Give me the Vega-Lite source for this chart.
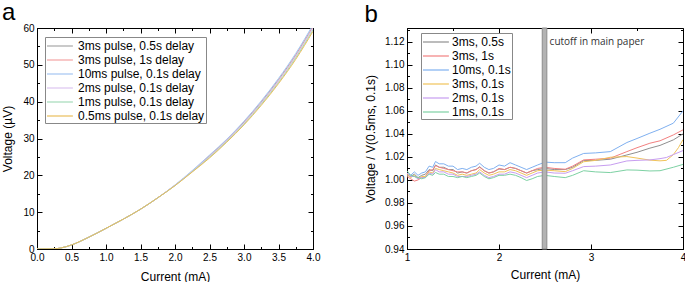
{
  "$schema": "https://vega.github.io/schema/vega-lite/v6.json",
  "padding": {"left": 1, "top": 0, "right": 0, "bottom": 0},
  "background": "white",
  "config": {
    "font": "Liberation Sans",
    "view": {"stroke": "black", "strokeWidth": 1},
    "axis": {"grid": false, "domainColor": "black", "tickColor": "black", "labelColor": "black", "titleColor": "black", "labelFont": "Liberation Sans", "titleFont": "Liberation Sans", "labelFontSize": 10, "titleFontSize": 12, "titleFontWeight": "normal", "labelFlush": false, "labelOverlap": false},
    "legend": {"labelFont": "Liberation Sans", "labelFontSize": 12, "labelColor": "black", "strokeColor": "#888888", "fillColor": "white", "padding": 1, "rowPadding": 0}
  },
  "datasets": {
    "curves": [
      {"s":"3ms pulse, 0.5s delay","I":0,"V":0},{"s":"3ms pulse, 0.5s delay","I":0.25,"V":0.05},{"s":"3ms pulse, 0.5s delay","I":0.35,"V":0.3},{"s":"3ms pulse, 0.5s delay","I":0.5,"V":1.1},{"s":"3ms pulse, 0.5s delay","I":0.75,"V":3.2},{"s":"3ms pulse, 0.5s delay","I":1.0,"V":5.6},{"s":"3ms pulse, 0.5s delay","I":1.25,"V":8.1},{"s":"3ms pulse, 0.5s delay","I":1.5,"V":10.8},{"s":"3ms pulse, 0.5s delay","I":1.75,"V":13.9},{"s":"3ms pulse, 0.5s delay","I":2.0,"V":17.3},{"s":"3ms pulse, 0.5s delay","I":2.25,"V":21.1},{"s":"3ms pulse, 0.5s delay","I":2.5,"V":25.3},{"s":"3ms pulse, 0.5s delay","I":2.75,"V":29.6},{"s":"3ms pulse, 0.5s delay","I":3.0,"V":34.5},{"s":"3ms pulse, 0.5s delay","I":3.25,"V":39.9},{"s":"3ms pulse, 0.5s delay","I":3.5,"V":46.0},{"s":"3ms pulse, 0.5s delay","I":3.75,"V":52.7},{"s":"3ms pulse, 0.5s delay","I":4.0,"V":60.5},
      {"s":"3ms pulse, 1s delay","I":0,"V":0},{"s":"3ms pulse, 1s delay","I":0.25,"V":0.05},{"s":"3ms pulse, 1s delay","I":0.35,"V":0.3},{"s":"3ms pulse, 1s delay","I":0.5,"V":1.1},{"s":"3ms pulse, 1s delay","I":0.75,"V":3.2},{"s":"3ms pulse, 1s delay","I":1.0,"V":5.6},{"s":"3ms pulse, 1s delay","I":1.25,"V":8.1},{"s":"3ms pulse, 1s delay","I":1.5,"V":10.8},{"s":"3ms pulse, 1s delay","I":1.75,"V":13.9},{"s":"3ms pulse, 1s delay","I":2.0,"V":17.3},{"s":"3ms pulse, 1s delay","I":2.25,"V":21.1},{"s":"3ms pulse, 1s delay","I":2.5,"V":25.2},{"s":"3ms pulse, 1s delay","I":2.75,"V":29.5},{"s":"3ms pulse, 1s delay","I":3.0,"V":34.3},{"s":"3ms pulse, 1s delay","I":3.25,"V":39.7},{"s":"3ms pulse, 1s delay","I":3.5,"V":45.7},{"s":"3ms pulse, 1s delay","I":3.75,"V":52.5},{"s":"3ms pulse, 1s delay","I":4.0,"V":60.2},
      {"s":"10ms pulse, 0.1s delay","I":0,"V":0},{"s":"10ms pulse, 0.1s delay","I":0.25,"V":0.05},{"s":"10ms pulse, 0.1s delay","I":0.35,"V":0.3},{"s":"10ms pulse, 0.1s delay","I":0.5,"V":1.1},{"s":"10ms pulse, 0.1s delay","I":0.75,"V":3.2},{"s":"10ms pulse, 0.1s delay","I":1.0,"V":5.6},{"s":"10ms pulse, 0.1s delay","I":1.25,"V":8.1},{"s":"10ms pulse, 0.1s delay","I":1.5,"V":10.8},{"s":"10ms pulse, 0.1s delay","I":1.75,"V":13.9},{"s":"10ms pulse, 0.1s delay","I":2.0,"V":17.4},{"s":"10ms pulse, 0.1s delay","I":2.25,"V":21.3},{"s":"10ms pulse, 0.1s delay","I":2.5,"V":25.5},{"s":"10ms pulse, 0.1s delay","I":2.75,"V":29.8},{"s":"10ms pulse, 0.1s delay","I":3.0,"V":34.7},{"s":"10ms pulse, 0.1s delay","I":3.25,"V":40.2},{"s":"10ms pulse, 0.1s delay","I":3.5,"V":46.3},{"s":"10ms pulse, 0.1s delay","I":3.75,"V":53.1},{"s":"10ms pulse, 0.1s delay","I":4.0,"V":60.9},
      {"s":"2ms pulse, 0.1s delay","I":0,"V":0},{"s":"2ms pulse, 0.1s delay","I":0.25,"V":0.05},{"s":"2ms pulse, 0.1s delay","I":0.35,"V":0.3},{"s":"2ms pulse, 0.1s delay","I":0.5,"V":1.1},{"s":"2ms pulse, 0.1s delay","I":0.75,"V":3.2},{"s":"2ms pulse, 0.1s delay","I":1.0,"V":5.6},{"s":"2ms pulse, 0.1s delay","I":1.25,"V":8.1},{"s":"2ms pulse, 0.1s delay","I":1.5,"V":10.8},{"s":"2ms pulse, 0.1s delay","I":1.75,"V":13.9},{"s":"2ms pulse, 0.1s delay","I":2.0,"V":17.3},{"s":"2ms pulse, 0.1s delay","I":2.25,"V":21.1},{"s":"2ms pulse, 0.1s delay","I":2.5,"V":25.1},{"s":"2ms pulse, 0.1s delay","I":2.75,"V":29.4},{"s":"2ms pulse, 0.1s delay","I":3.0,"V":34.2},{"s":"2ms pulse, 0.1s delay","I":3.25,"V":39.6},{"s":"2ms pulse, 0.1s delay","I":3.5,"V":45.6},{"s":"2ms pulse, 0.1s delay","I":3.75,"V":52.3},{"s":"2ms pulse, 0.1s delay","I":4.0,"V":60.0},
      {"s":"1ms pulse, 0.1s delay","I":0,"V":0},{"s":"1ms pulse, 0.1s delay","I":0.25,"V":0.05},{"s":"1ms pulse, 0.1s delay","I":0.35,"V":0.3},{"s":"1ms pulse, 0.1s delay","I":0.5,"V":1.1},{"s":"1ms pulse, 0.1s delay","I":0.75,"V":3.2},{"s":"1ms pulse, 0.1s delay","I":1.0,"V":5.6},{"s":"1ms pulse, 0.1s delay","I":1.25,"V":8.1},{"s":"1ms pulse, 0.1s delay","I":1.5,"V":10.8},{"s":"1ms pulse, 0.1s delay","I":1.75,"V":13.9},{"s":"1ms pulse, 0.1s delay","I":2.0,"V":17.2},{"s":"1ms pulse, 0.1s delay","I":2.25,"V":21.0},{"s":"1ms pulse, 0.1s delay","I":2.5,"V":24.9},{"s":"1ms pulse, 0.1s delay","I":2.75,"V":29.2},{"s":"1ms pulse, 0.1s delay","I":3.0,"V":33.9},{"s":"1ms pulse, 0.1s delay","I":3.25,"V":39.3},{"s":"1ms pulse, 0.1s delay","I":3.5,"V":45.2},{"s":"1ms pulse, 0.1s delay","I":3.75,"V":51.9},{"s":"1ms pulse, 0.1s delay","I":4.0,"V":59.5},
      {"s":"0.5ms pulse, 0.1s delay","I":0,"V":0},{"s":"0.5ms pulse, 0.1s delay","I":0.25,"V":0.05},{"s":"0.5ms pulse, 0.1s delay","I":0.35,"V":0.3},{"s":"0.5ms pulse, 0.1s delay","I":0.5,"V":1.1},{"s":"0.5ms pulse, 0.1s delay","I":0.75,"V":3.2},{"s":"0.5ms pulse, 0.1s delay","I":1.0,"V":5.6},{"s":"0.5ms pulse, 0.1s delay","I":1.25,"V":8.1},{"s":"0.5ms pulse, 0.1s delay","I":1.5,"V":10.8},{"s":"0.5ms pulse, 0.1s delay","I":1.75,"V":13.9},{"s":"0.5ms pulse, 0.1s delay","I":2.0,"V":17.2},{"s":"0.5ms pulse, 0.1s delay","I":2.25,"V":20.9},{"s":"0.5ms pulse, 0.1s delay","I":2.5,"V":24.7},{"s":"0.5ms pulse, 0.1s delay","I":2.75,"V":29.0},{"s":"0.5ms pulse, 0.1s delay","I":3.0,"V":33.7},{"s":"0.5ms pulse, 0.1s delay","I":3.25,"V":39.0},{"s":"0.5ms pulse, 0.1s delay","I":3.5,"V":44.9},{"s":"0.5ms pulse, 0.1s delay","I":3.75,"V":51.5},{"s":"0.5ms pulse, 0.1s delay","I":4.0,"V":59.1}
    ],
    "ratios": [
      {"s":"10ms, 0.1s","I":1.00,"R":1.006},{"s":"10ms, 0.1s","I":1.04,"R":1.004},{"s":"10ms, 0.1s","I":1.08,"R":1.007},{"s":"10ms, 0.1s","I":1.12,"R":1.004},{"s":"10ms, 0.1s","I":1.16,"R":1.006},{"s":"10ms, 0.1s","I":1.20,"R":1.007},{"s":"10ms, 0.1s","I":1.24,"R":1.012},{"s":"10ms, 0.1s","I":1.28,"R":1.011},{"s":"10ms, 0.1s","I":1.31,"R":1.016},{"s":"10ms, 0.1s","I":1.35,"R":1.014},{"s":"10ms, 0.1s","I":1.40,"R":1.014},{"s":"10ms, 0.1s","I":1.45,"R":1.012},{"s":"10ms, 0.1s","I":1.50,"R":1.012},{"s":"10ms, 0.1s","I":1.55,"R":1.009},{"s":"10ms, 0.1s","I":1.60,"R":1.010},{"s":"10ms, 0.1s","I":1.65,"R":1.009},{"s":"10ms, 0.1s","I":1.70,"R":1.011},{"s":"10ms, 0.1s","I":1.75,"R":1.012},{"s":"10ms, 0.1s","I":1.79,"R":1.0145},{"s":"10ms, 0.1s","I":1.84,"R":1.011},{"s":"10ms, 0.1s","I":1.89,"R":1.009},{"s":"10ms, 0.1s","I":1.94,"R":1.010},{"s":"10ms, 0.1s","I":2.00,"R":1.013},{"s":"10ms, 0.1s","I":2.06,"R":1.012},{"s":"10ms, 0.1s","I":2.12,"R":1.015},{"s":"10ms, 0.1s","I":2.18,"R":1.013},{"s":"10ms, 0.1s","I":2.24,"R":1.011},{"s":"10ms, 0.1s","I":2.30,"R":1.009},{"s":"10ms, 0.1s","I":2.36,"R":1.011},{"s":"10ms, 0.1s","I":2.42,"R":1.013},{"s":"10ms, 0.1s","I":2.50,"R":1.0155},{"s":"10ms, 0.1s","I":2.60,"R":1.015},{"s":"10ms, 0.1s","I":2.72,"R":1.015},{"s":"10ms, 0.1s","I":2.80,"R":1.019},{"s":"10ms, 0.1s","I":2.92,"R":1.023},{"s":"10ms, 0.1s","I":3.05,"R":1.0235},{"s":"10ms, 0.1s","I":3.21,"R":1.0246},{"s":"10ms, 0.1s","I":3.39,"R":1.0325},{"s":"10ms, 0.1s","I":3.50,"R":1.036},{"s":"10ms, 0.1s","I":3.64,"R":1.0406},{"s":"10ms, 0.1s","I":3.75,"R":1.044},{"s":"10ms, 0.1s","I":3.895,"R":1.0493},{"s":"10ms, 0.1s","I":4.00,"R":1.0600},
      {"s":"3ms, 0.5s","I":1.00,"R":1.004},{"s":"3ms, 0.5s","I":1.04,"R":1.003},{"s":"3ms, 0.5s","I":1.08,"R":1.005},{"s":"3ms, 0.5s","I":1.12,"R":1.002},{"s":"3ms, 0.5s","I":1.16,"R":1.004},{"s":"3ms, 0.5s","I":1.20,"R":1.005},{"s":"3ms, 0.5s","I":1.24,"R":1.009},{"s":"3ms, 0.5s","I":1.28,"R":1.008},{"s":"3ms, 0.5s","I":1.31,"R":1.013},{"s":"3ms, 0.5s","I":1.35,"R":1.011},{"s":"3ms, 0.5s","I":1.40,"R":1.011},{"s":"3ms, 0.5s","I":1.45,"R":1.009},{"s":"3ms, 0.5s","I":1.50,"R":1.009},{"s":"3ms, 0.5s","I":1.55,"R":1.006},{"s":"3ms, 0.5s","I":1.60,"R":1.007},{"s":"3ms, 0.5s","I":1.65,"R":1.006},{"s":"3ms, 0.5s","I":1.70,"R":1.008},{"s":"3ms, 0.5s","I":1.75,"R":1.009},{"s":"3ms, 0.5s","I":1.79,"R":1.0115},{"s":"3ms, 0.5s","I":1.84,"R":1.008},{"s":"3ms, 0.5s","I":1.89,"R":1.006},{"s":"3ms, 0.5s","I":1.94,"R":1.007},{"s":"3ms, 0.5s","I":2.00,"R":1.0095},{"s":"3ms, 0.5s","I":2.06,"R":1.009},{"s":"3ms, 0.5s","I":2.12,"R":1.011},{"s":"3ms, 0.5s","I":2.18,"R":1.010},{"s":"3ms, 0.5s","I":2.24,"R":1.008},{"s":"3ms, 0.5s","I":2.30,"R":1.006},{"s":"3ms, 0.5s","I":2.36,"R":1.008},{"s":"3ms, 0.5s","I":2.42,"R":1.009},{"s":"3ms, 0.5s","I":2.50,"R":1.010},{"s":"3ms, 0.5s","I":2.60,"R":1.009},{"s":"3ms, 0.5s","I":2.72,"R":1.009},{"s":"3ms, 0.5s","I":2.80,"R":1.011},{"s":"3ms, 0.5s","I":2.92,"R":1.0168},{"s":"3ms, 0.5s","I":3.05,"R":1.017},{"s":"3ms, 0.5s","I":3.21,"R":1.018},{"s":"3ms, 0.5s","I":3.39,"R":1.0217},{"s":"3ms, 0.5s","I":3.50,"R":1.024},{"s":"3ms, 0.5s","I":3.64,"R":1.0276},{"s":"3ms, 0.5s","I":3.75,"R":1.030},{"s":"3ms, 0.5s","I":3.895,"R":1.0348},{"s":"3ms, 0.5s","I":4.00,"R":1.0400},
      {"s":"3ms, 1s","I":1.00,"R":1.003},{"s":"3ms, 1s","I":1.04,"R":1.001},{"s":"3ms, 1s","I":1.08,"R":0.999},{"s":"3ms, 1s","I":1.12,"R":1.000},{"s":"3ms, 1s","I":1.16,"R":1.002},{"s":"3ms, 1s","I":1.20,"R":1.003},{"s":"3ms, 1s","I":1.24,"R":1.008},{"s":"3ms, 1s","I":1.28,"R":1.009},{"s":"3ms, 1s","I":1.31,"R":1.0125},{"s":"3ms, 1s","I":1.35,"R":1.011},{"s":"3ms, 1s","I":1.40,"R":1.010},{"s":"3ms, 1s","I":1.45,"R":1.009},{"s":"3ms, 1s","I":1.50,"R":1.008},{"s":"3ms, 1s","I":1.55,"R":1.007},{"s":"3ms, 1s","I":1.60,"R":1.007},{"s":"3ms, 1s","I":1.65,"R":1.006},{"s":"3ms, 1s","I":1.70,"R":1.008},{"s":"3ms, 1s","I":1.75,"R":1.009},{"s":"3ms, 1s","I":1.79,"R":1.011},{"s":"3ms, 1s","I":1.84,"R":1.008},{"s":"3ms, 1s","I":1.89,"R":1.006},{"s":"3ms, 1s","I":1.94,"R":1.007},{"s":"3ms, 1s","I":2.00,"R":1.010},{"s":"3ms, 1s","I":2.06,"R":1.009},{"s":"3ms, 1s","I":2.12,"R":1.011},{"s":"3ms, 1s","I":2.18,"R":1.010},{"s":"3ms, 1s","I":2.24,"R":1.008},{"s":"3ms, 1s","I":2.30,"R":1.006},{"s":"3ms, 1s","I":2.36,"R":1.008},{"s":"3ms, 1s","I":2.42,"R":1.010},{"s":"3ms, 1s","I":2.50,"R":1.011},{"s":"3ms, 1s","I":2.60,"R":1.010},{"s":"3ms, 1s","I":2.72,"R":1.0093},{"s":"3ms, 1s","I":2.80,"R":1.012},{"s":"3ms, 1s","I":2.92,"R":1.0174},{"s":"3ms, 1s","I":3.05,"R":1.018},{"s":"3ms, 1s","I":3.21,"R":1.0189},{"s":"3ms, 1s","I":3.39,"R":1.0246},{"s":"3ms, 1s","I":3.50,"R":1.028},{"s":"3ms, 1s","I":3.64,"R":1.0319},{"s":"3ms, 1s","I":3.75,"R":1.034},{"s":"3ms, 1s","I":3.895,"R":1.0391},{"s":"3ms, 1s","I":4.00,"R":1.0435},
      {"s":"3ms, 0.1s","I":1.00,"R":1.005},{"s":"3ms, 0.1s","I":1.04,"R":1.002},{"s":"3ms, 0.1s","I":1.08,"R":1.004},{"s":"3ms, 0.1s","I":1.12,"R":1.001},{"s":"3ms, 0.1s","I":1.16,"R":1.003},{"s":"3ms, 0.1s","I":1.20,"R":1.003},{"s":"3ms, 0.1s","I":1.24,"R":1.007},{"s":"3ms, 0.1s","I":1.28,"R":1.006},{"s":"3ms, 0.1s","I":1.31,"R":1.010},{"s":"3ms, 0.1s","I":1.35,"R":1.009},{"s":"3ms, 0.1s","I":1.40,"R":1.008},{"s":"3ms, 0.1s","I":1.45,"R":1.007},{"s":"3ms, 0.1s","I":1.50,"R":1.006},{"s":"3ms, 0.1s","I":1.55,"R":1.004},{"s":"3ms, 0.1s","I":1.60,"R":1.005},{"s":"3ms, 0.1s","I":1.65,"R":1.004},{"s":"3ms, 0.1s","I":1.70,"R":1.005},{"s":"3ms, 0.1s","I":1.75,"R":1.006},{"s":"3ms, 0.1s","I":1.79,"R":1.009},{"s":"3ms, 0.1s","I":1.84,"R":1.006},{"s":"3ms, 0.1s","I":1.89,"R":1.004},{"s":"3ms, 0.1s","I":1.94,"R":1.005},{"s":"3ms, 0.1s","I":2.00,"R":1.007},{"s":"3ms, 0.1s","I":2.06,"R":1.007},{"s":"3ms, 0.1s","I":2.12,"R":1.009},{"s":"3ms, 0.1s","I":2.18,"R":1.008},{"s":"3ms, 0.1s","I":2.24,"R":1.006},{"s":"3ms, 0.1s","I":2.30,"R":1.004},{"s":"3ms, 0.1s","I":2.36,"R":1.006},{"s":"3ms, 0.1s","I":2.42,"R":1.008},{"s":"3ms, 0.1s","I":2.50,"R":1.0085},{"s":"3ms, 0.1s","I":2.60,"R":1.008},{"s":"3ms, 0.1s","I":2.72,"R":1.0072},{"s":"3ms, 0.1s","I":2.80,"R":1.010},{"s":"3ms, 0.1s","I":2.92,"R":1.0158},{"s":"3ms, 0.1s","I":3.05,"R":1.017},{"s":"3ms, 0.1s","I":3.21,"R":1.0197},{"s":"3ms, 0.1s","I":3.39,"R":1.0203},{"s":"3ms, 0.1s","I":3.50,"R":1.019},{"s":"3ms, 0.1s","I":3.64,"R":1.0172},{"s":"3ms, 0.1s","I":3.75,"R":1.0166},{"s":"3ms, 0.1s","I":3.82,"R":1.017},{"s":"3ms, 0.1s","I":3.895,"R":1.022},{"s":"3ms, 0.1s","I":3.95,"R":1.028},{"s":"3ms, 0.1s","I":4.00,"R":1.035},
      {"s":"2ms, 0.1s","I":1.00,"R":1.006},{"s":"2ms, 0.1s","I":1.04,"R":1.003},{"s":"2ms, 0.1s","I":1.08,"R":1.003},{"s":"2ms, 0.1s","I":1.12,"R":1.001},{"s":"2ms, 0.1s","I":1.16,"R":1.002},{"s":"2ms, 0.1s","I":1.20,"R":1.002},{"s":"2ms, 0.1s","I":1.24,"R":1.006},{"s":"2ms, 0.1s","I":1.28,"R":1.005},{"s":"2ms, 0.1s","I":1.31,"R":1.009},{"s":"2ms, 0.1s","I":1.35,"R":1.007},{"s":"2ms, 0.1s","I":1.40,"R":1.007},{"s":"2ms, 0.1s","I":1.45,"R":1.005},{"s":"2ms, 0.1s","I":1.50,"R":1.005},{"s":"2ms, 0.1s","I":1.55,"R":1.003},{"s":"2ms, 0.1s","I":1.60,"R":1.003},{"s":"2ms, 0.1s","I":1.65,"R":1.003},{"s":"2ms, 0.1s","I":1.70,"R":1.004},{"s":"2ms, 0.1s","I":1.75,"R":1.005},{"s":"2ms, 0.1s","I":1.79,"R":1.007},{"s":"2ms, 0.1s","I":1.84,"R":1.004},{"s":"2ms, 0.1s","I":1.89,"R":1.002},{"s":"2ms, 0.1s","I":1.94,"R":1.003},{"s":"2ms, 0.1s","I":2.00,"R":1.005},{"s":"2ms, 0.1s","I":2.06,"R":1.005},{"s":"2ms, 0.1s","I":2.12,"R":1.007},{"s":"2ms, 0.1s","I":2.18,"R":1.006},{"s":"2ms, 0.1s","I":2.24,"R":1.004},{"s":"2ms, 0.1s","I":2.30,"R":1.002},{"s":"2ms, 0.1s","I":2.36,"R":1.004},{"s":"2ms, 0.1s","I":2.42,"R":1.006},{"s":"2ms, 0.1s","I":2.50,"R":1.007},{"s":"2ms, 0.1s","I":2.60,"R":1.006},{"s":"2ms, 0.1s","I":2.72,"R":1.0058},{"s":"2ms, 0.1s","I":2.80,"R":1.008},{"s":"2ms, 0.1s","I":2.92,"R":1.0116},{"s":"2ms, 0.1s","I":3.05,"R":1.012},{"s":"2ms, 0.1s","I":3.21,"R":1.013},{"s":"2ms, 0.1s","I":3.39,"R":1.0165},{"s":"2ms, 0.1s","I":3.50,"R":1.017},{"s":"2ms, 0.1s","I":3.64,"R":1.0174},{"s":"2ms, 0.1s","I":3.75,"R":1.0185},{"s":"2ms, 0.1s","I":3.82,"R":1.0195},{"s":"2ms, 0.1s","I":3.895,"R":1.022},{"s":"2ms, 0.1s","I":4.00,"R":1.0255},
      {"s":"1ms, 0.1s","I":1.00,"R":1.008},{"s":"1ms, 0.1s","I":1.04,"R":1.004},{"s":"1ms, 0.1s","I":1.08,"R":1.003},{"s":"1ms, 0.1s","I":1.12,"R":1.002},{"s":"1ms, 0.1s","I":1.16,"R":1.001},{"s":"1ms, 0.1s","I":1.20,"R":1.002},{"s":"1ms, 0.1s","I":1.24,"R":1.005},{"s":"1ms, 0.1s","I":1.28,"R":1.004},{"s":"1ms, 0.1s","I":1.31,"R":1.0065},{"s":"1ms, 0.1s","I":1.35,"R":1.005},{"s":"1ms, 0.1s","I":1.40,"R":1.005},{"s":"1ms, 0.1s","I":1.45,"R":1.003},{"s":"1ms, 0.1s","I":1.50,"R":1.003},{"s":"1ms, 0.1s","I":1.55,"R":1.002},{"s":"1ms, 0.1s","I":1.60,"R":1.003},{"s":"1ms, 0.1s","I":1.65,"R":1.002},{"s":"1ms, 0.1s","I":1.70,"R":1.003},{"s":"1ms, 0.1s","I":1.75,"R":1.004},{"s":"1ms, 0.1s","I":1.79,"R":1.006},{"s":"1ms, 0.1s","I":1.84,"R":1.003},{"s":"1ms, 0.1s","I":1.89,"R":1.001},{"s":"1ms, 0.1s","I":1.94,"R":1.002},{"s":"1ms, 0.1s","I":2.00,"R":1.004},{"s":"1ms, 0.1s","I":2.06,"R":1.004},{"s":"1ms, 0.1s","I":2.12,"R":1.005},{"s":"1ms, 0.1s","I":2.18,"R":1.004},{"s":"1ms, 0.1s","I":2.24,"R":1.002},{"s":"1ms, 0.1s","I":2.30,"R":0.9995},{"s":"1ms, 0.1s","I":2.36,"R":1.001},{"s":"1ms, 0.1s","I":2.42,"R":1.003},{"s":"1ms, 0.1s","I":2.50,"R":1.004},{"s":"1ms, 0.1s","I":2.60,"R":1.003},{"s":"1ms, 0.1s","I":2.72,"R":1.002},{"s":"1ms, 0.1s","I":2.80,"R":1.004},{"s":"1ms, 0.1s","I":2.92,"R":1.008},{"s":"1ms, 0.1s","I":3.05,"R":1.007},{"s":"1ms, 0.1s","I":3.21,"R":1.0064},{"s":"1ms, 0.1s","I":3.39,"R":1.0087},{"s":"1ms, 0.1s","I":3.50,"R":1.0085},{"s":"1ms, 0.1s","I":3.64,"R":1.0078},{"s":"1ms, 0.1s","I":3.75,"R":1.008},{"s":"1ms, 0.1s","I":3.895,"R":1.0110},{"s":"1ms, 0.1s","I":4.00,"R":1.0135}
    ],
    "band": [{"a": 2.47, "b": 2.52}],
    "note": [{"I": 2.55, "R": 1.12, "t": "cutoff in main paper"}]
  },
  "hconcat": [
    {
      "width": 276, "height": 221,
      "title": {"text": "a", "anchor": "start", "frame": "bounds", "fontSize": 24, "fontWeight": "normal", "font": "Liberation Sans", "color": "black", "offset": -2},
      "data": {"name": "curves"},
      "layer": [
        {
          "mark": {"type": "line", "strokeWidth": 1, "interpolate": "monotone", "clip": true},
          "encoding": {
            "x": {"field": "I", "type": "quantitative", "scale": {"domain": [0, 4], "nice": false, "zero": false},
              "axis": {"title": "Current (mA)", "values": [0,0.25,0.5,0.75,1,1.25,1.5,1.75,2,2.25,2.5,2.75,3,3.25,3.5,3.75,4], "format": ".1f", "labelExpr": "abs(datum.value*2-round(datum.value*2))>0.01 ? '' : datum.label", "tickSize": {"condition": {"test": "abs(datum.value*2-round(datum.value*2))>0.01", "value": -2.5}, "value": -5}, "labelPadding": 8, "titlePadding": 7}},
            "y": {"field": "V", "type": "quantitative", "scale": {"domain": [0, 60], "nice": false},
              "axis": {"title": "Voltage (µV)", "values": [0,5,10,15,20,25,30,35,40,45,50,55,60], "labelExpr": "datum.value % 10 != 0 ? '' : datum.label", "tickSize": {"condition": {"test": "datum.value % 10 != 0", "value": -2.5}, "value": -5}, "labelPadding": 8, "titlePadding": 8}},
            "color": {"field": "s", "type": "nominal",
              "scale": {"domain": ["3ms pulse, 0.5s delay", "3ms pulse, 1s delay", "10ms pulse, 0.1s delay", "2ms pulse, 0.1s delay", "1ms pulse, 0.1s delay", "0.5ms pulse, 0.1s delay"],
                "range": ["#a6a6a6", "#f4a3a3", "#a3c4f2", "#dcc4f0", "#a3dbb9", "#e9be5c"]},
              "legend": {"title": null, "orient": "none", "legendX": 8, "legendY": 9, "symbolType": "M-1,0L2.7,0", "symbolSize": 196, "symbolStrokeWidth": 1.2, "symbolOpacity": 1, "labelOffset": 16, "labelFontSize": 12}}
          }
        },
        {
          "mark": {"type": "line", "strokeOpacity": 0},
          "encoding": {
            "x": {"field": "I", "type": "quantitative", "axis": {"orient": "top", "title": null, "labels": false, "domain": false, "values": [0,0.25,0.5,0.75,1,1.25,1.5,1.75,2,2.25,2.5,2.75,3,3.25,3.5,3.75,4], "tickSize": {"condition": {"test": "abs(datum.value*2-round(datum.value*2))>0.01", "value": -2.5}, "value": -5}}},
            "y": {"field": "V", "type": "quantitative", "axis": {"orient": "right", "title": null, "labels": false, "domain": false, "values": [0,5,10,15,20,25,30,35,40,45,50,55,60], "tickSize": {"condition": {"test": "datum.value % 10 != 0", "value": -2.5}, "value": -5}}}
          }
        }
      ],
      "resolve": {"axis": {"x": "independent", "y": "independent"}}
    },
    {
      "width": 276, "height": 221,
      "title": {"text": "b", "anchor": "start", "frame": "bounds", "fontSize": 24, "fontWeight": "normal", "font": "Liberation Sans", "color": "black", "offset": -2},
      "layer": [
        {
          "data": {"name": "ratios"},
          "mark": {"type": "line", "strokeWidth": 1, "clip": true},
          "encoding": {
            "x": {"field": "I", "type": "quantitative", "scale": {"domain": [1, 4], "nice": false, "zero": false},
              "axis": {"title": "Current (mA)", "values": [1,1.5,2,2.5,3,3.5,4], "format": "d", "labelExpr": "datum.value % 1 != 0 ? '' : datum.label", "tickSize": {"condition": {"test": "datum.value % 1 != 0", "value": -2.5}, "value": -5}, "labelPadding": 8, "titlePadding": 7}},
            "y": {"field": "R", "type": "quantitative", "scale": {"domain": [0.94, 1.132], "nice": false, "zero": false},
              "axis": {"title": "Voltage / V(0.5ms, 0.1s)", "values": [0.94,0.95,0.96,0.97,0.98,0.99,1.0,1.01,1.02,1.03,1.04,1.05,1.06,1.07,1.08,1.09,1.1,1.11,1.12,1.13], "format": ".2f", "labelExpr": "abs(datum.value*50-round(datum.value*50))>0.01 ? '' : datum.label", "tickSize": {"condition": {"test": "abs(datum.value*50-round(datum.value*50))>0.01", "value": -2.5}, "value": -5}, "labelPadding": 8, "titlePadding": 7}},
            "color": {"field": "s", "type": "nominal",
              "scale": {"domain": ["3ms, 0.5s", "3ms, 1s", "10ms, 0.1s", "3ms, 0.1s", "2ms, 0.1s", "1ms, 0.1s"],
                "range": ["#8f8f8f", "#f28080", "#7fb0f0", "#f0c35a", "#c79df0", "#7dd1a3"]},
              "legend": {"title": null, "orient": "none", "legendX": 14, "legendY": 5, "symbolType": "M-1,0L2.7,0", "symbolSize": 196, "symbolStrokeWidth": 1.2, "symbolOpacity": 1, "labelOffset": 14, "labelFontSize": 12}}
          }
        },
        {
          "data": {"name": "band"},
          "mark": {"type": "rect", "fill": "#b3b3b3", "stroke": "#8c8c8c", "strokeWidth": 1},
          "encoding": {
            "x": {"field": "a", "type": "quantitative", "axis": null},
            "x2": {"field": "b"}
          }
        },
        {
          "data": {"name": "note"},
          "mark": {"type": "text", "align": "left", "baseline": "middle", "fontSize": 10, "font": "Open Sans", "color": "#333333"},
          "encoding": {
            "x": {"field": "I", "type": "quantitative", "axis": null},
            "y": {"field": "R", "type": "quantitative", "axis": null},
            "text": {"field": "t"}
          }
        },
        {
          "data": {"name": "ratios"},
          "mark": {"type": "line", "strokeOpacity": 0},
          "encoding": {
            "x": {"field": "I", "type": "quantitative", "axis": {"orient": "top", "title": null, "labels": false, "domain": false, "values": [1,1.5,2,2.5,3,3.5,4], "tickSize": {"condition": {"test": "datum.value % 1 != 0", "value": -2.5}, "value": -5}}},
            "y": {"field": "R", "type": "quantitative", "axis": {"orient": "right", "title": null, "labels": false, "domain": false, "values": [0.94,0.95,0.96,0.97,0.98,0.99,1.0,1.01,1.02,1.03,1.04,1.05,1.06,1.07,1.08,1.09,1.1,1.11,1.12,1.13], "tickSize": {"condition": {"test": "abs(datum.value*50-round(datum.value*50))>0.01", "value": -2.5}, "value": -5}}}
          }
        }
      ],
      "resolve": {"axis": {"x": "independent", "y": "independent"}}
    }
  ],
  "spacing": 94,
  "bounds": "flush",
  "resolve": {"scale": {"color": "independent"}}
}
